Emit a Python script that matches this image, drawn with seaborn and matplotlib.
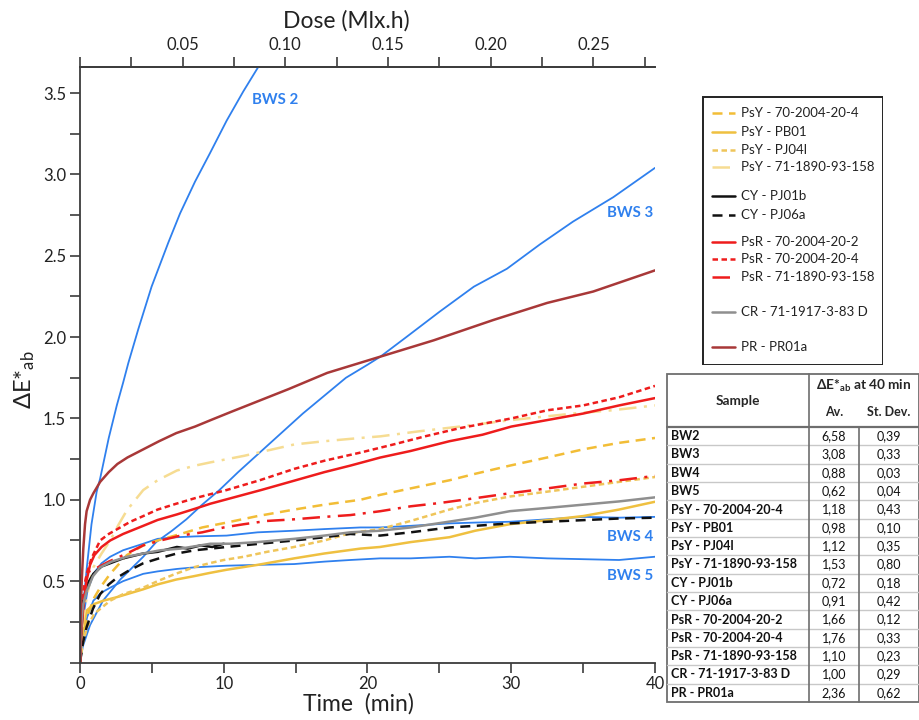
import numpy as np
import pandas as pd
import matplotlib
matplotlib.use("Agg")
import matplotlib.pyplot as plt
import seaborn as sns
from matplotlib.ticker import MultipleLocator, FixedLocator, FormatStrFormatter
from matplotlib.lines import Line2D
from matplotlib.patches import Rectangle

# ---------------- data ----------------
DOSE_PER_MIN = 0.007  # Mlx.h per minute

bws2_t = [0, 0.15, 0.47, 0.8, 1.16, 1.4, 2.0, 2.56, 3.0, 3.36, 4.06, 4.98, 6.14, 6.96, 8.0, 9.04, 10.2, 11.36, 12.4]
bws2_v = [0, 0.28, 0.58, 0.85, 1.05, 1.13, 1.38, 1.58, 1.72, 1.84, 2.05, 2.31, 2.58, 2.76, 2.955, 3.13, 3.33, 3.51, 3.66]

bws3_t = [0, 0.2, 0.7, 1.6, 2.8, 3.6, 4.4, 5.3, 6.4, 7.4, 8.5, 9.7, 11.0, 12.5, 14.0, 15.5, 17.0, 18.5, 20.0, 20.9, 22.7, 25.0, 27.4, 29.7, 32.0, 34.3, 37.1, 40.0]
bws3_v = [0, 0.1, 0.23, 0.38, 0.51, 0.58, 0.65, 0.74, 0.81, 0.88, 0.97, 1.06, 1.17, 1.29, 1.41, 1.53, 1.64, 1.75, 1.83, 1.88, 2.0, 2.155, 2.31, 2.42, 2.57, 2.71, 2.86, 3.04]

bws4_t = [0, 0.1, 0.23, 0.5, 0.93, 1.5, 2.1, 3.0, 4.4, 5.4, 6.74, 8.0, 10.2, 12.35, 14.9, 17.0, 19.5, 20.87, 23.0, 25.7, 27.5, 29.9, 32.5, 35.0, 37.5, 40.0]
bws4_v = [0, 0.15, 0.28, 0.43, 0.545, 0.61, 0.65, 0.69, 0.73, 0.76, 0.77, 0.775, 0.78, 0.80, 0.81, 0.82, 0.83, 0.83, 0.84, 0.855, 0.86, 0.865, 0.88, 0.895, 0.89, 0.895]

bws5_t = [0, 0.1, 0.23, 0.5, 0.93, 1.5, 2.1, 3.0, 4.4, 5.4, 6.74, 8.0, 10.2, 12.35, 14.9, 17.0, 18.8, 20.87, 23.0, 25.7, 27.5, 29.9, 32.5, 35.0, 37.5, 40.0]
bws5_v = [0, 0.1, 0.17, 0.28, 0.38, 0.43, 0.46, 0.5, 0.545, 0.56, 0.575, 0.585, 0.595, 0.6, 0.605, 0.62, 0.63, 0.64, 0.64, 0.65, 0.64, 0.65, 0.64, 0.635, 0.63, 0.65]

psy1_t = [0, 0.2, 0.47, 1.0, 1.4, 2.1, 3.26, 4.4, 5.4, 7.0, 8.5, 10.2, 12.35, 14.9, 17.0, 19.5, 20.87, 23.0, 25.7, 27.5, 29.9, 32.5, 35.0, 37.5, 40.0]
psy1_v = [0, 0.15, 0.28, 0.4, 0.46, 0.545, 0.66, 0.72, 0.75, 0.79, 0.83, 0.86, 0.9, 0.94, 0.97, 1.0, 1.03, 1.07, 1.12, 1.16, 1.21, 1.26, 1.31, 1.35, 1.38]

psy2_t = [0, 0.1, 0.25, 0.47, 1.0, 1.63, 2.5, 3.26, 4.4, 5.4, 6.7, 7.9, 9.0, 10.2, 12.35, 14.9, 17.0, 19.5, 20.87, 23.0, 25.7, 27.5, 29.9, 32.5, 35.0, 37.5, 40.0]
psy2_v = [0, 0.12, 0.22, 0.32, 0.36, 0.38, 0.40, 0.42, 0.45, 0.48, 0.51, 0.53, 0.55, 0.57, 0.60, 0.64, 0.67, 0.70, 0.71, 0.74, 0.77, 0.81, 0.85, 0.875, 0.90, 0.94, 0.988]

psy3_t = [0, 0.2, 0.5, 1.0, 2.1, 3.0, 4.4, 5.4, 6.5, 7.9, 9.0, 10.0, 11.4, 13.0, 14.9, 17.0, 18.8, 20.87, 23.0, 25.7, 27.5, 29.9, 32.5, 35.0, 37.5, 40.0]
psy3_v = [0, 0.12, 0.22, 0.3, 0.38, 0.42, 0.46, 0.5, 0.54, 0.585, 0.61, 0.63, 0.65, 0.68, 0.71, 0.75, 0.795, 0.82, 0.87, 0.94, 0.98, 1.02, 1.05, 1.08, 1.11, 1.14]

psy4_t = [0, 0.2, 0.5, 0.93, 1.5, 2.1, 2.7, 3.26, 4.4, 5.4, 6.74, 8.0, 9.07, 11.4, 13.4, 14.9, 17.0, 19.5, 20.9, 23.5, 26.4, 30.0, 34.3, 37.0, 40.0]
psy4_v = [0, 0.25, 0.42, 0.585, 0.67, 0.75, 0.85, 0.935, 1.06, 1.12, 1.18, 1.21, 1.23, 1.27, 1.31, 1.34, 1.36, 1.38, 1.39, 1.42, 1.45, 1.49, 1.53, 1.55, 1.58]

cy1_t = [0, 0.1, 0.23, 0.5, 0.93, 1.5, 2.1, 3.0, 4.4, 5.4, 6.74, 7.5, 8.4, 9.2, 10.0]
cy1_v = [0, 0.2, 0.38, 0.48, 0.545, 0.59, 0.61, 0.64, 0.67, 0.68, 0.71, 0.70, 0.72, 0.71, 0.73]

cy2_t = [0, 0.2, 0.47, 0.9, 1.4, 2.0, 2.56, 3.3, 4.4, 5.5, 6.74, 8.0, 10.2, 12.5, 14.9, 17.0, 18.8, 20.87, 23.0, 25.7, 27.5, 29.9, 32.5, 35.0, 37.5, 40.0]
cy2_v = [0, 0.12, 0.22, 0.33, 0.42, 0.48, 0.52, 0.56, 0.61, 0.64, 0.67, 0.69, 0.71, 0.73, 0.75, 0.77, 0.79, 0.78, 0.80, 0.83, 0.84, 0.855, 0.865, 0.875, 0.885, 0.89]

psr1_t = [0, 0.1, 0.23, 0.45, 0.7, 1.0, 1.5, 2.1, 3.0, 4.4, 5.4, 6.74, 8.0, 9.07, 10.5, 12.6, 15.0, 17.0, 18.8, 20.9, 23.0, 25.7, 28.0, 30.0, 32.5, 35.0, 37.5, 40.0]
psr1_v = [0, 0.2, 0.34, 0.5, 0.6, 0.66, 0.71, 0.75, 0.79, 0.84, 0.876, 0.91, 0.945, 0.976, 1.01, 1.06, 1.12, 1.17, 1.21, 1.26, 1.30, 1.36, 1.40, 1.45, 1.49, 1.53, 1.58, 1.625]

psr2_t = [0, 0.1, 0.25, 0.47, 0.8, 1.4, 2.0, 2.8, 3.5, 4.4, 5.4, 6.7, 8.0, 10.2, 12.5, 14.9, 17.0, 19.5, 21.8, 24.0, 26.4, 30.0, 32.5, 35.0, 37.5, 40.0]
psr2_v = [0, 0.3, 0.45, 0.545, 0.64, 0.75, 0.79, 0.83, 0.865, 0.9, 0.94, 0.976, 1.01, 1.06, 1.12, 1.19, 1.24, 1.29, 1.34, 1.39, 1.44, 1.50, 1.55, 1.58, 1.63, 1.70]

psr3_t = [0, 0, 0.5, 0.93, 2.0, 3.26, 4.4, 5.6, 7.0, 8.5, 10.0, 11.4, 13.0, 14.9, 17.0, 18.8, 20.9, 23.0, 25.0, 27.5, 29.9, 32.5, 35.0, 37.5, 40.0]
psr3_v = [0.0, 0.54, 0.555, 0.57, 0.62, 0.67, 0.72, 0.75, 0.78, 0.80, 0.83, 0.85, 0.87, 0.88, 0.895, 0.906, 0.93, 0.96, 0.98, 1.01, 1.04, 1.07, 1.10, 1.12, 1.147]

cr_t = [0, 0.1, 0.2, 0.47, 0.9, 1.4, 2.2, 3.26, 4.4, 5.6, 7.0, 9.07, 10.5, 12.35, 14.9, 17.0, 18.8, 20.87, 23.0, 25.7, 27.5, 29.9, 32.5, 35.0, 37.5, 40.0]
cr_v = [0, 0.25, 0.35, 0.44, 0.53, 0.585, 0.62, 0.65, 0.67, 0.69, 0.70, 0.73, 0.73, 0.74, 0.76, 0.78, 0.80, 0.81, 0.83, 0.866, 0.89, 0.93, 0.95, 0.97, 0.99, 1.015]

pr_t = [0, 0.05, 0.12, 0.23, 0.35, 0.46, 0.7, 0.93, 1.4, 2.0, 2.6, 3.3, 4.4, 5.5, 6.7, 8.0, 9.1, 10.5, 12.5, 14.5, 17.2, 20.9, 24.6, 28.75, 32.5, 35.7, 40.0]
pr_v = [0, 0.3, 0.5, 0.7, 0.85, 0.93, 1.0, 1.04, 1.11, 1.17, 1.22, 1.26, 1.31, 1.36, 1.41, 1.45, 1.49, 1.54, 1.61, 1.68, 1.78, 1.88, 1.98, 2.105, 2.21, 2.28, 2.41]

# Table values
table_samples = ["BW2", "BW3", "BW4", "BW5", "PsY - 70-2004-20-4", "PsY - PB01", "PsY - PJ04l",
                 "PsY - 71-1890-93-158", "CY - PJ01b", "CY - PJ06a", "PsR - 70-2004-20-2",
                 "PsR - 70-2004-20-4", "PsR - 71-1890-93-158", "CR - 71-1917-3-83 D", "PR - PR01a"]
table_av = ["6,58", "3,08", "0,88", "0,62", "1,18", "0,98", "1,12", "1,53", "0,72", "0,91",
            "1,66", "1,76", "1,10", "1,00", "2,36"]
table_sd = ["0,39", "0,33", "0,03", "0,04", "0,43", "0,10", "0,35", "0,80", "0,18", "0,42",
            "0,12", "0,33", "0,23", "0,29", "0,62"]

x_ticks = [0, 10, 20, 30, 40]
y_ticks = [0.5, 1.0, 1.5, 2.0, 2.5, 3.0, 3.5]
dose_ticks = [0.05, 0.10, 0.15, 0.20, 0.25]

# ---------------- styles ----------------
BLUE = "#2f80ee"
RED = "#ee1c1c"
BROWN = "#a83838"
GRAY = "#8f8f8f"
BLACK = "#111111"
Y1 = "#f2bd36"
Y2 = "#efc040"
Y3 = "#efc55a"
Y4 = "#f6dc92"

series = [
    # (label, t, v, color, linestyle, lw)
    (None, bws2_t, bws2_v, BLUE, "-", 1.3),
    (None, bws3_t, bws3_v, BLUE, "-", 1.3),
    (None, bws4_t, bws4_v, BLUE, "-", 1.3),
    (None, bws5_t, bws5_v, BLUE, "-", 1.3),
    ("PsY - 70-2004-20-4", psy1_t, psy1_v, Y1, (0, (4, 2.6)), 1.8),
    ("PsY - PB01", psy2_t, psy2_v, Y2, "-", 1.8),
    ("PsY - PJ04l", psy3_t, psy3_v, Y3, (0, (2.2, 1.4)), 1.8),
    ("PsY - 71-1890-93-158", psy4_t, psy4_v, Y4, (0, (7, 3, 1.2, 3)), 1.8),
    ("CY - PJ01b", cy1_t, cy1_v, BLACK, "-", 1.8),
    ("CY - PJ06a", cy2_t, cy2_v, BLACK, (0, (4, 2.6)), 1.8),
    ("PsR - 70-2004-20-2", psr1_t, psr1_v, RED, "-", 1.8),
    ("PsR - 70-2004-20-4", psr2_t, psr2_v, RED, (0, (2.2, 1.4)), 1.8),
    ("PsR - 71-1890-93-158", psr3_t, psr3_v, RED, (0, (7, 3, 1.2, 3)), 1.8),
    ("CR - 71-1917-3-83 D", cr_t, cr_v, GRAY, "-", 1.8),
    ("PR - PR01a", pr_t, pr_v, BROWN, "-", 1.8),
]

# ---------------- figure ----------------
sns.set_style("ticks")
FONT = ["Lato", "DejaVu Sans"]
plt.rcParams["font.family"] = FONT
plt.rcParams["mathtext.fontset"] = "custom"
plt.rcParams["mathtext.rm"] = "Lato"
plt.rcParams["mathtext.it"] = "Lato:italic"
plt.rcParams["mathtext.bf"] = "Lato:bold"

W, H = 920, 720
fig = plt.figure(figsize=(W / 100, H / 100), dpi=100)

def px_rect(x0, y0, x1, y1):
    return [x0 / W, 1 - y1 / H, (x1 - x0) / W, (y1 - y0) / H]

ax = fig.add_axes(px_rect(80, 67, 655, 662.5))

for label, t, v, c, ls, lw in series:
    df = pd.DataFrame({"t": t, "v": v})
    sns.lineplot(data=df, x="t", y="v", ax=ax, color=c, linestyle=ls, linewidth=lw,
                 sort=False, estimator=None, legend=False)

ax.set_xlim(0, 40)
ax.set_ylim(0, 3.66)

SPINE = "#3c3c3c"
for s in ["left", "bottom", "top"]:
    ax.spines[s].set_color(SPINE)
    ax.spines[s].set_linewidth(1.3)
ax.spines["right"].set_visible(False)

ax.xaxis.set_major_locator(FixedLocator(x_ticks))
ax.xaxis.set_minor_locator(MultipleLocator(5))
ax.yaxis.set_major_locator(FixedLocator(y_ticks))
ax.yaxis.set_minor_locator(MultipleLocator(0.25))
ax.yaxis.set_major_formatter(FormatStrFormatter("%.1f"))
ax.tick_params(axis="both", which="both", direction="out", length=7, width=1.2,
               color=SPINE, labelsize=12, labelcolor="#222222", pad=3)
ax.tick_params(axis="x", which="both", top=False)

ax.set_xlabel("Time  (min)", fontsize=16.5, color="#222222")
ax.xaxis.set_label_coords(0.484, -0.052)
ax.set_ylabel(r"ΔE*$_{\mathregular{ab}}$", fontsize=17, color="#222222")
ax.yaxis.set_label_coords(-0.074, 0.475)

secax = ax.secondary_xaxis("top", functions=(lambda t: t * DOSE_PER_MIN, lambda d: d / DOSE_PER_MIN))
secax.xaxis.set_major_locator(FixedLocator(dose_ticks))
secax.xaxis.set_minor_locator(MultipleLocator(0.025))
secax.xaxis.set_major_formatter(FormatStrFormatter("%.2f"))
secax.tick_params(axis="x", which="both", direction="out", length=7, width=1.2,
                  color=SPINE, labelsize=12, labelcolor="#222222", pad=3)
secax.spines["top"].set_color(SPINE)
secax.spines["top"].set_linewidth(1.3)
secax.set_xlabel("Dose (Mlx.h)", fontsize=16.5, color="#222222")
secax.xaxis.set_label_coords(0.463, 1.066, transform=ax.transAxes)

# curve labels
for txt, tx, ty, ha in [("BWS 2", 12.0, 3.46, "left"), ("BWS 3", 39.9, 2.76, "right"),
                        ("BWS 4", 39.9, 0.77, "right"), ("BWS 5", 39.9, 0.53, "right")]:
    ax.text(tx, ty, txt, color=BLUE, fontsize=10.8, fontweight="bold", ha=ha, va="center")

# ---------------- legend box ----------------
lax = fig.add_axes(px_rect(702, 96, 883, 365))
lax.set_xlim(702, 883)
lax.set_ylim(365, 96)
lax.axis("off")
lax.add_patch(Rectangle((702.5, 96.5), 180, 268, fill=False, edgecolor="#222222", linewidth=1.4))
legend_rows = [113.3, 131.7, 150, 167.3, 196, 215, 241.7, 259, 276.7, 312.3, 346.7]
for (label, t, v, c, ls, lw), yy in zip(series[4:], legend_rows):
    lax.add_line(Line2D([712, 735], [yy, yy], color=c, linestyle=ls, linewidth=lw))
    lax.text(741, yy, label, fontsize=9.5, color="#222222", va="center", ha="left")

# ---------------- table ----------------
tx0, tx1, tx2, tx3 = 667, 809, 859, 919
ty0, tyh, ty_end = 374, 427, 702
tax = fig.add_axes(px_rect(tx0 - 1, ty0 - 1, 920, ty_end + 1))
tax.set_xlim(tx0 - 1, 920)
tax.set_ylim(ty_end + 1, ty0 - 1)
tax.axis("off")
nrows = len(table_samples)
rh = (ty_end - tyh) / nrows
LG = "#c8c8c8"
DG = "#6e6e6e"
for i in range(1, nrows):
    yy = tyh + i * rh
    tax.plot([tx0, tx3], [yy, yy], color=LG, lw=1.0)
tax.plot([tx0, tx3], [tyh, tyh], color=DG, lw=1.6)
tax.plot([tx1, tx1], [ty0, ty_end], color=DG, lw=1.2)
tax.plot([tx2, tx2], [tyh, ty_end], color=DG, lw=1.2)
tax.add_patch(Rectangle((tx0, ty0), tx3 - tx0, ty_end - ty0, fill=False, edgecolor=DG, linewidth=1.3))

TFS = 9.0
HFS = 9.8
tax.text((tx0 + tx1) / 2, 401, "Sample", fontsize=HFS, fontweight="bold", ha="center", va="center")
tax.text((tx1 + tx3) / 2, 386, r"ΔE*$_{\mathbf{ab}}$ at 40 min", fontsize=HFS, fontweight="bold",
         ha="center", va="center")
tax.text((tx1 + tx2) / 2, 412, "Av.", fontsize=TFS, fontweight="bold", ha="center", va="center")
tax.text((tx2 + tx3) / 2, 412, "St. Dev.", fontsize=TFS, fontweight="bold", ha="center", va="center")
for i, (s, a, d) in enumerate(zip(table_samples, table_av, table_sd)):
    yc = tyh + (i + 0.5) * rh
    tax.text(tx0 + 4, yc, s, fontsize=TFS, fontweight="bold", ha="left", va="center", color="#111111")
    tax.text((tx1 + tx2) / 2, yc, a, fontsize=TFS, ha="center", va="center", color="#111111")
    tax.text((tx2 + tx3) / 2, yc, d, fontsize=TFS, ha="center", va="center", color="#111111")

fig.savefig("out.png", dpi=100)
